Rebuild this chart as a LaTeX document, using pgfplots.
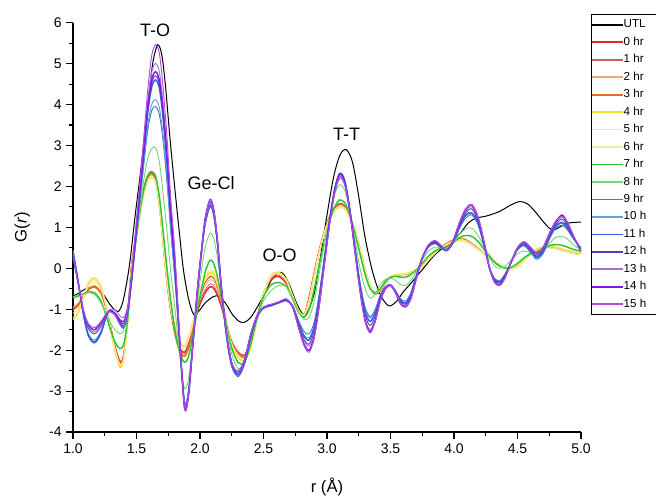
\documentclass[border=0pt]{standalone}
\usepackage{fontspec}
\setmainfont{Liberation Sans}
\usepackage{pgfplots}
\usepackage{pgfplotstable}
\pgfplotsset{compat=1.18}
\definecolor{c0}{HTML}{E3262A}
\definecolor{c1}{HTML}{C9605E}
\definecolor{c2}{HTML}{EFA77A}
\definecolor{c3}{HTML}{EB6A1F}
\definecolor{c4}{HTML}{F2DE2C}
\definecolor{c5}{HTML}{F6E77E}
\definecolor{c6}{HTML}{F4EBA3}
\definecolor{c7}{HTML}{2DC82D}
\definecolor{c8}{HTML}{74D874}
\definecolor{c9}{HTML}{3C7DC2}
\definecolor{c10}{HTML}{5DA2DA}
\definecolor{c11}{HTML}{2F5FD8}
\definecolor{c12}{HTML}{5A3CB4}
\definecolor{c13}{HTML}{9C74CC}
\definecolor{c14}{HTML}{7D1FE0}
\definecolor{c15}{HTML}{B04CE4}

\pgfplotstableread{
r g
1.00 -0.68
1.05 -0.60
1.10 -0.50
1.17 -0.46
1.23 -0.60
1.29 -0.88
1.33 -1.02
1.36 -1.05
1.39 -0.85
1.42 -0.40
1.45 0.20
1.49 1.30
1.53 2.30
1.57 3.40
1.60 4.30
1.63 5.05
1.667 5.46
1.70 5.20
1.73 4.40
1.76 3.30
1.80 2.00
1.84 0.80
1.87 -0.05
1.91 -0.75
1.95 -1.13
1.99 -1.05
2.04 -0.85
2.10 -0.70
2.15 -0.68
2.20 -0.85
2.26 -1.15
2.31 -1.30
2.35 -1.32
2.40 -1.20
2.46 -0.90
2.52 -0.55
2.57 -0.25
2.62 -0.10
2.66 -0.15
2.71 -0.45
2.76 -0.85
2.81 -1.12
2.85 -1.05
2.90 -0.60
2.95 0.30
3.00 1.30
3.05 2.20
3.10 2.75
3.15 2.90
3.20 2.60
3.25 1.75
3.30 0.75
3.36 -0.10
3.42 -0.65
3.47 -0.88
3.50 -0.92
3.55 -0.80
3.60 -0.58
3.66 -0.37
3.71 -0.18
3.76 0.00
3.84 0.30
3.91 0.49
3.98 0.65
4.05 0.86
4.11 1.10
4.17 1.22
4.26 1.28
4.36 1.39
4.45 1.55
4.52 1.63
4.58 1.57
4.64 1.38
4.70 1.15
4.75 0.98
4.79 0.94
4.84 1.02
4.89 1.10
4.95 1.12
5.00 1.13
}\dataU

\pgfplotstableread{
r a0 a1 a2 a3 a4 a5 a6 g7 g8 c9 c10 c11 c12 c13 c14 c15
1.00 -1.00 -0.98 -0.95 -1.02 -1.25 -1.20 -1.10 -0.72 -0.70 0.45 0.42 0.40 0.32 0.35 0.30 0.30
1.04 -0.90 -0.88 -0.85 -0.92 -1.10 -1.06 -1.00 -0.68 -0.65 -0.30 -0.31 -0.31 -0.33 -0.34 -0.35 -0.35
1.08 -0.70 -0.69 -0.66 -0.71 -0.75 -0.74 -0.72 -0.62 -0.62 -1.10 -1.08 -1.09 -1.04 -1.03 -1.01 -1.00
1.12 -0.52 -0.52 -0.49 -0.53 -0.37 -0.40 -0.45 -0.58 -0.60 -1.65 -1.59 -1.63 -1.47 -1.43 -1.39 -1.35
1.17 -0.45 -0.46 -0.42 -0.45 -0.24 -0.28 -0.35 -0.60 -0.64 -1.83 -1.75 -1.80 -1.60 -1.55 -1.50 -1.45
1.22 -0.60 -0.61 -0.57 -0.60 -0.45 -0.48 -0.52 -0.80 -0.85 -1.60 -1.54 -1.58 -1.43 -1.39 -1.34 -1.30
1.26 -0.95 -0.96 -0.93 -0.96 -0.90 -0.91 -0.93 -1.15 -1.10 -1.20 -1.18 -1.19 -1.15 -1.14 -1.13 -1.12
1.29 -1.35 -1.36 -1.38 -1.39 -1.40 -1.39 -1.37 -1.45 -1.30 -1.02 -1.03 -1.02 -1.04 -1.00 -1.05 -1.06
1.33 -1.90 -1.92 -1.95 -1.96 -2.00 -1.98 -1.96 -1.80 -1.50 -1.10 -1.12 -1.11 -1.10 -1.02 -1.10 -1.15
1.37 -2.28 -2.30 -2.32 -2.34 -2.42 -2.38 -2.35 -1.96 -1.60 -1.32 -1.36 -1.34 -1.30 -1.17 -1.26 -1.38
1.40 -2.10 -2.12 -2.14 -2.16 -2.22 -2.20 -2.17 -1.85 -1.50 -1.40 -1.45 -1.42 -1.35 -1.20 -1.30 -1.45
1.43 -1.20 -1.22 -1.24 -1.25 -1.30 -1.28 -1.26 -1.25 -1.00 -1.10 -1.12 -1.08 -1.05 -0.95 -1.00 -1.00
1.46 0.00 -0.02 -0.04 -0.02 -0.10 -0.08 -0.06 -0.20 -0.20 -0.40 -0.38 -0.31 -0.30 -0.26 -0.29 -0.20
1.50 0.90 0.88 0.86 0.89 0.80 0.80 0.84 0.80 0.80 0.80 0.84 0.97 1.00 1.08 1.02 1.20
1.53 1.50 1.47 1.45 1.48 1.40 1.39 1.42 1.45 1.50 1.70 1.76 1.92 1.95 2.05 1.98 2.20
1.56 1.98 1.94 1.92 1.95 1.86 1.84 1.88 1.95 2.20 2.60 2.68 2.90 2.95 3.09 2.99 3.30
1.59 2.27 2.22 2.20 2.24 2.14 2.12 2.16 2.25 2.70 3.40 3.51 3.83 3.90 4.10 3.96 4.40
1.62 2.36 2.30 2.28 2.32 2.22 2.20 2.24 2.35 2.92 3.85 4.00 4.43 4.53 4.80 4.61 5.20
1.65 2.20 2.16 2.14 2.17 2.10 2.08 2.10 2.25 2.95 3.95 4.12 4.60 4.70 5.00 4.80 5.46
1.68 1.60 1.57 1.56 1.58 1.55 1.53 1.55 1.75 2.60 3.75 3.92 4.40 4.50 4.80 4.59 5.25
1.71 0.65 0.63 0.62 0.64 0.62 0.60 0.62 0.90 1.80 3.10 3.24 3.66 3.75 4.01 3.83 4.40
1.74 -0.30 -0.31 -0.32 -0.31 -0.28 -0.29 -0.29 0.00 0.90 2.10 2.22 2.57 2.65 2.87 2.72 3.20
1.77 -1.00 -1.02 -1.03 -1.03 -0.95 -0.96 -0.97 -0.80 -0.10 0.90 0.99 1.24 1.30 1.46 1.35 1.70
1.80 -1.50 -1.53 -1.55 -1.56 -1.40 -1.42 -1.44 -1.45 -0.90 -0.20 -0.12 0.10 0.15 0.29 0.19 0.50
1.82 -1.75 -1.78 -1.80 -1.82 -1.62 -1.64 -1.67 -1.80 -1.50 -1.00 -0.95 -0.85 -0.78 -0.75 -0.70 -0.60
1.85 -2.00 -2.05 -2.07 -2.10 -1.85 -1.87 -1.90 -2.15 -2.40 -2.30 -2.30 -2.28 -2.25 -2.25 -2.22 -2.20
1.88 -2.05 -2.10 -2.13 -2.15 -1.90 -1.92 -1.95 -2.30 -2.95 -3.30 -3.30 -3.35 -3.40 -3.35 -3.45 -3.45
1.91 -1.85 -1.90 -1.93 -1.95 -1.70 -1.72 -1.75 -2.15 -2.70 -3.00 -3.00 -3.03 -3.07 -3.03 -3.10 -3.10
1.94 -1.50 -1.54 -1.56 -1.58 -1.38 -1.40 -1.42 -1.70 -1.90 -2.00 -2.00 -2.00 -2.00 -2.00 -2.00 -2.00
1.98 -1.05 -1.03 -0.98 -0.95 -0.85 -0.82 -0.88 -1.00 -0.80 -0.60 -0.58 -0.57 -0.53 -0.55 -0.50 -0.50
2.01 -0.80 -0.74 -0.65 -0.58 -0.48 -0.44 -0.52 -0.55 -0.10 0.30 0.31 0.33 0.37 0.36 0.40 0.40
2.04 -0.60 -0.53 -0.43 -0.35 -0.25 -0.20 -0.30 -0.10 0.50 1.05 1.07 1.09 1.15 1.13 1.20 1.20
2.08 -0.45 -0.38 -0.28 -0.20 -0.10 -0.05 -0.15 0.20 0.86 1.50 1.52 1.55 1.62 1.60 1.68 1.68
2.11 -0.50 -0.43 -0.33 -0.25 -0.15 -0.10 -0.20 0.10 0.70 1.25 1.27 1.29 1.35 1.33 1.40 1.40
2.14 -0.68 -0.62 -0.53 -0.46 -0.38 -0.34 -0.42 -0.25 0.20 0.50 0.51 0.53 0.57 0.56 0.60 0.60
2.17 -0.95 -0.91 -0.85 -0.80 -0.75 -0.72 -0.78 -0.75 -0.55 -0.60 -0.59 -0.57 -0.53 -0.54 -0.50 -0.50
2.21 -1.40 -1.40 -1.38 -1.36 -1.35 -1.33 -1.36 -1.40 -1.40 -1.70 -1.69 -1.68 -1.65 -1.64 -1.61 -1.60
2.25 -1.80 -1.80 -1.82 -1.83 -1.88 -1.86 -1.85 -1.95 -2.10 -2.40 -2.39 -2.37 -2.34 -2.33 -2.31 -2.30
2.30 -2.05 -2.05 -2.08 -2.10 -2.18 -2.15 -2.13 -2.30 -2.45 -2.65 -2.62 -2.60 -2.55 -2.50 -2.55 -2.55
2.35 -2.12 -2.12 -2.15 -2.17 -2.25 -2.22 -2.20 -2.30 -2.30 -2.35 -2.33 -2.31 -2.27 -2.22 -2.26 -2.25
2.40 -1.80 -1.80 -1.83 -1.85 -1.93 -1.90 -1.88 -1.85 -1.75 -1.70 -1.69 -1.67 -1.64 -1.60 -1.62 -1.60
2.45 -1.20 -1.20 -1.22 -1.24 -1.30 -1.28 -1.26 -1.20 -1.20 -1.20 -1.19 -1.18 -1.17 -1.15 -1.16 -1.15
2.50 -0.65 -0.64 -0.63 -0.63 -0.65 -0.64 -0.64 -0.70 -0.80 -0.98 -0.97 -0.97 -0.96 -0.96 -0.95 -0.95
2.56 -0.28 -0.25 -0.22 -0.20 -0.18 -0.19 -0.21 -0.40 -0.55 -0.92 -0.91 -0.91 -0.90 -0.89 -0.89 -0.88
2.62 -0.20 -0.17 -0.14 -0.12 -0.10 -0.11 -0.13 -0.35 -0.42 -0.85 -0.85 -0.84 -0.84 -0.83 -0.83 -0.82
2.68 -0.38 -0.35 -0.32 -0.30 -0.28 -0.29 -0.31 -0.45 -0.45 -0.80 -0.79 -0.78 -0.77 -0.76 -0.76 -0.75
2.73 -0.75 -0.73 -0.71 -0.70 -0.68 -0.69 -0.70 -0.75 -0.75 -0.92 -0.93 -0.93 -0.94 -0.94 -0.95 -0.95
2.78 -1.08 -1.07 -1.06 -1.06 -1.05 -1.06 -1.07 -1.10 -1.10 -1.30 -1.34 -1.37 -1.41 -1.43 -1.48 -1.50
2.82 -1.15 -1.15 -1.15 -1.14 -1.13 -1.14 -1.15 -1.20 -1.25 -1.55 -1.63 -1.67 -1.75 -1.78 -1.86 -1.90
2.86 -0.70 -0.72 -0.74 -0.75 -0.80 -0.78 -0.76 -1.00 -1.20 -1.60 -1.70 -1.75 -1.85 -1.90 -2.00 -2.05
2.90 -0.10 -0.12 -0.14 -0.15 -0.18 -0.17 -0.15 -0.50 -0.80 -1.30 -1.39 -1.43 -1.52 -1.57 -1.66 -1.70
2.94 0.45 0.44 0.42 0.42 0.40 0.40 0.42 0.10 -0.10 -0.60 -0.67 -0.70 -0.77 -0.80 -0.87 -0.90
2.98 0.90 0.89 0.88 0.88 0.86 0.86 0.88 0.65 0.60 0.30 0.26 0.23 0.19 0.17 0.12 0.10
3.02 1.25 1.24 1.23 1.23 1.20 1.19 1.22 1.15 1.25 1.15 1.15 1.17 1.13 1.08 1.10 1.05
3.06 1.48 1.47 1.46 1.46 1.41 1.39 1.43 1.50 1.80 1.85 1.88 1.93 1.90 1.82 1.90 1.85
3.10 1.58 1.57 1.56 1.56 1.50 1.48 1.52 1.67 2.04 2.20 2.25 2.32 2.30 2.20 2.30 2.25
3.14 1.52 1.51 1.50 1.50 1.46 1.44 1.47 1.60 1.90 2.05 2.08 2.14 2.12 2.03 2.10 2.05
3.18 1.25 1.25 1.25 1.25 1.24 1.23 1.24 1.30 1.40 1.40 1.41 1.44 1.42 1.36 1.40 1.40
3.22 0.90 0.90 0.91 0.91 0.92 0.92 0.91 0.85 0.70 0.50 0.50 0.50 0.47 0.42 0.42 0.40
3.26 0.45 0.45 0.46 0.46 0.48 0.48 0.47 0.35 0.00 -0.35 -0.37 -0.41 -0.46 -0.51 -0.54 -0.55
3.30 -0.05 -0.05 -0.04 -0.04 -0.02 -0.02 -0.03 -0.15 -0.50 -0.95 -0.99 -1.06 -1.14 -1.23 -1.28 -1.30
3.34 -0.45 -0.45 -0.44 -0.44 -0.42 -0.42 -0.43 -0.50 -0.73 -1.18 -1.22 -1.30 -1.40 -1.50 -1.55 -1.58
3.38 -0.63 -0.63 -0.62 -0.62 -0.60 -0.60 -0.61 -0.60 -0.62 -1.00 -1.03 -1.09 -1.17 -1.24 -1.28 -1.30
3.42 -0.55 -0.55 -0.54 -0.54 -0.52 -0.52 -0.53 -0.50 -0.40 -0.65 -0.67 -0.70 -0.73 -0.77 -0.79 -0.80
3.46 -0.35 -0.35 -0.34 -0.34 -0.33 -0.33 -0.34 -0.32 -0.27 -0.45 -0.46 -0.47 -0.48 -0.49 -0.50 -0.50
3.50 -0.22 -0.22 -0.22 -0.21 -0.21 -0.21 -0.22 -0.22 -0.24 -0.40 -0.40 -0.41 -0.41 -0.41 -0.42 -0.42
3.54 -0.18 -0.18 -0.17 -0.19 -0.16 -0.17 -0.20 -0.20 -0.30 -0.55 -0.56 -0.57 -0.58 -0.59 -0.60 -0.60
3.58 -0.17 -0.17 -0.16 -0.18 -0.15 -0.16 -0.19 -0.22 -0.40 -0.75 -0.78 -0.79 -0.82 -0.85 -0.87 -0.88
3.62 -0.15 -0.15 -0.14 -0.16 -0.13 -0.14 -0.17 -0.22 -0.42 -0.80 -0.83 -0.85 -0.88 -0.91 -0.94 -0.95
3.66 -0.11 -0.11 -0.10 -0.12 -0.09 -0.10 -0.13 -0.15 -0.30 -0.60 -0.63 -0.65 -0.68 -0.71 -0.74 -0.75
3.70 -0.06 -0.06 -0.05 -0.07 -0.04 -0.05 -0.08 -0.05 -0.10 -0.20 -0.22 -0.23 -0.25 -0.28 -0.29 -0.30
3.75 0.05 0.05 0.06 0.04 0.07 0.06 0.03 0.12 0.20 0.25 0.25 0.25 0.25 0.25 0.25 0.25
3.80 0.22 0.22 0.23 0.21 0.24 0.23 0.20 0.30 0.42 0.52 0.53 0.54 0.55 0.57 0.57 0.58
3.85 0.38 0.38 0.39 0.37 0.39 0.39 0.36 0.42 0.52 0.60 0.62 0.62 0.64 0.66 0.67 0.68
3.89 0.50 0.50 0.51 0.49 0.49 0.50 0.48 0.48 0.50 0.52 0.53 0.54 0.55 0.57 0.57 0.58
3.94 0.60 0.60 0.61 0.59 0.57 0.58 0.58 0.52 0.48 0.42 0.43 0.43 0.44 0.44 0.45 0.45
3.99 0.68 0.68 0.69 0.67 0.64 0.65 0.66 0.62 0.60 0.60 0.61 0.62 0.62 0.64 0.65 0.65
4.04 0.72 0.72 0.73 0.71 0.68 0.69 0.70 0.74 0.82 0.95 0.98 1.00 1.02 1.06 1.08 1.10
4.09 0.70 0.70 0.71 0.69 0.66 0.67 0.68 0.80 0.96 1.22 1.27 1.29 1.34 1.39 1.43 1.45
4.14 0.60 0.60 0.61 0.59 0.57 0.58 0.58 0.78 0.98 1.30 1.35 1.35 1.45 1.50 1.55 1.55
4.19 0.48 0.48 0.49 0.47 0.46 0.47 0.46 0.65 0.80 1.05 1.09 1.11 1.15 1.20 1.23 1.25
4.24 0.35 0.35 0.36 0.34 0.34 0.35 0.33 0.45 0.50 0.50 0.52 0.53 0.55 0.58 0.59 0.60
4.28 0.25 0.25 0.26 0.24 0.24 0.25 0.23 0.30 0.25 0.00 0.00 0.00 0.00 0.00 0.00 0.00
4.32 0.15 0.15 0.16 0.14 0.15 0.15 0.13 0.15 0.05 -0.25 -0.27 -0.28 -0.30 -0.33 -0.34 -0.35
4.36 0.07 0.07 0.08 0.06 0.07 0.07 0.05 0.05 0.00 -0.30 -0.32 -0.34 -0.36 -0.39 -0.41 -0.42
4.40 0.02 0.02 0.03 0.01 0.02 0.02 0.00 0.00 0.05 -0.15 -0.17 -0.18 -0.20 -0.23 -0.24 -0.25
4.45 0.00 0.00 0.01 -0.01 0.00 0.00 -0.02 0.02 0.20 0.15 0.15 0.15 0.15 0.15 0.15 0.15
4.50 0.05 0.05 0.06 0.04 0.05 0.05 0.03 0.12 0.35 0.45 0.46 0.47 0.48 0.49 0.50 0.50
4.55 0.20 0.20 0.21 0.19 0.21 0.20 0.18 0.25 0.42 0.55 0.57 0.58 0.60 0.63 0.64 0.65
4.60 0.35 0.35 0.36 0.34 0.37 0.36 0.33 0.35 0.38 0.40 0.42 0.44 0.46 0.49 0.51 0.52
4.65 0.45 0.45 0.46 0.44 0.47 0.46 0.43 0.40 0.32 0.22 0.25 0.27 0.30 0.34 0.36 0.38
4.70 0.50 0.50 0.51 0.49 0.52 0.51 0.48 0.48 0.42 0.35 0.38 0.40 0.43 0.46 0.49 0.50
4.75 0.52 0.52 0.53 0.51 0.54 0.53 0.50 0.55 0.60 0.70 0.73 0.75 0.78 0.81 0.84 0.85
4.80 0.50 0.50 0.51 0.49 0.52 0.51 0.48 0.58 0.75 0.98 1.01 1.03 1.07 1.11 1.13 1.15
4.85 0.45 0.45 0.46 0.44 0.47 0.46 0.43 0.56 0.78 1.05 1.10 1.12 1.20 1.25 1.30 1.27
4.89 0.42 0.42 0.43 0.41 0.44 0.43 0.40 0.52 0.72 0.95 0.99 1.01 1.05 1.10 1.13 1.15
4.94 0.38 0.38 0.39 0.37 0.40 0.39 0.36 0.46 0.58 0.72 0.74 0.74 0.76 0.78 0.79 0.80
5.00 0.35 0.35 0.36 0.34 0.37 0.36 0.33 0.42 0.45 0.50 0.48 0.47 0.45 0.43 0.41 0.40
}\dataC

\begin{document}
\begin{tikzpicture}
\begin{axis}[
  name=ax,
  scale only axis,
  width=381pt, height=307pt,
  xmin=1, xmax=5, ymin=-4, ymax=6,
  axis x line*=bottom, axis y line*=left,
  xtick={1,1.5,2,2.5,3,3.5,4,4.5,5},
  ytick={-4,-3,-2,-1,0,1,2,3,4,5,6},
  minor x tick num=1, minor y tick num=1,
  tick align=outside,
  major tick length=5pt, minor tick length=2.8pt,
  axis line style={line width=0.8pt},
  every tick/.style={black, line width=0.8pt},
  /pgf/number format/assume math mode=true,
  xticklabel={\pgfmathprintnumber[fixed,fixed zerofill,precision=1,assume math mode=true]{\tick}},
  tick label style={font=\fontsize{10.5}{12}\selectfont},
  xlabel={r (Å)},
  ylabel={G(\textit{r})},
  label style={font=\fontsize{12.5}{14}\selectfont},
  xlabel style={at={(axis description cs:0.5,-0.134)}, anchor=center},
  ylabel style={at={(axis description cs:-0.1,0.5)}, anchor=center},
  clip mode=individual,
  legend cell align=left,
  legend image code/.code={\draw[#1, line width=1.3pt] (0pt,0pt) -- (23pt,0pt);},
  legend style={at={(1.0197,1.021)}, anchor=north west, draw=black,
    font=\fontsize{8.7}{10}\selectfont, inner xsep=0pt, inner ysep=3.6pt, row sep=4.6pt,
    nodes={inner sep=0pt, text height=6.5pt, text depth=2pt},
    /tikz/every even column/.append style={column sep=3.8pt}},
]
\addplot[black, line width=0.75pt, smooth] table[x=r,y=g]{\dataU};
\addlegendentry{UTL\hspace*{16pt}}
\addplot[c0, line width=1.1pt, smooth] table[x=r,y=a0]{\dataC};
\addlegendentry{0 hr}
\addplot[c1, line width=0.6pt, smooth] table[x=r,y=a1]{\dataC};
\addlegendentry{1 hr}
\addplot[c2, line width=0.6pt, smooth] table[x=r,y=a2]{\dataC};
\addlegendentry{2 hr}
\addplot[c3, line width=1.1pt, smooth] table[x=r,y=a3]{\dataC};
\addlegendentry{3 hr}
\addplot[c4, line width=1.1pt, smooth] table[x=r,y=a4]{\dataC};
\addlegendentry{4 hr}
\addplot[c5, line width=0.7pt, smooth] table[x=r,y=a5]{\dataC};
\addlegendentry{5 hr}
\addplot[c6, line width=0.7pt, smooth] table[x=r,y=a6]{\dataC};
\addlegendentry{6 hr}
\addplot[c7, line width=1.1pt, smooth] table[x=r,y=g7]{\dataC};
\addlegendentry{7 hr}
\addplot[c8, line width=0.7pt, smooth] table[x=r,y=g8]{\dataC};
\addlegendentry{8 hr}
\addplot[c9, line width=0.7pt, smooth] table[x=r,y=c9]{\dataC};
\addlegendentry{9 hr}
\addplot[c10, line width=0.7pt, smooth] table[x=r,y=c10]{\dataC};
\addlegendentry{10 h}
\addplot[c11, line width=1.1pt, smooth] table[x=r,y=c11]{\dataC};
\addlegendentry{11 h}
\addplot[c12, line width=0.7pt, smooth] table[x=r,y=c12]{\dataC};
\addlegendentry{12 h}
\addplot[c13, line width=0.7pt, smooth] table[x=r,y=c13]{\dataC};
\addlegendentry{13 h}
\addplot[c14, line width=1.1pt, smooth] table[x=r,y=c14]{\dataC};
\addlegendentry{14 h}
\addplot[c15, line width=0.7pt, smooth] table[x=r,y=c15]{\dataC};
\addlegendentry{15 h}
\node[font=\fontsize{13.5}{15}\selectfont] at (axis cs:1.646,5.81) {T-O};
\node[font=\fontsize{13.5}{15}\selectfont] at (axis cs:2.087,2.08) {Ge-Cl};
\node[font=\fontsize{13.5}{15}\selectfont] at (axis cs:2.626,0.31) {O-O};
\node[font=\fontsize{13.5}{15}\selectfont] at (axis cs:3.155,3.27) {T-T};
\end{axis}
\pgfresetboundingbox
\path[use as bounding box] ([xshift=-54.75pt,yshift=-48.75pt]ax.south west) rectangle ([xshift=437.25pt,yshift=17pt]ax.north west);
\end{tikzpicture}
\end{document}
